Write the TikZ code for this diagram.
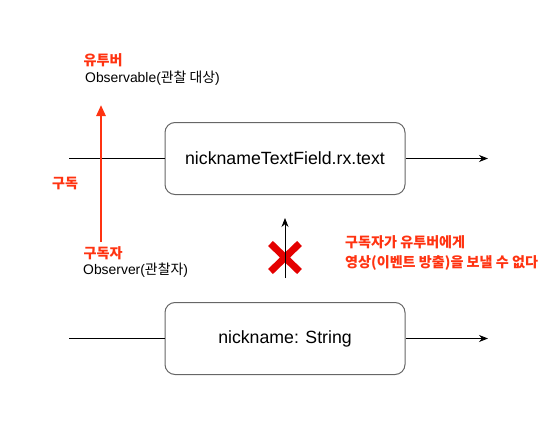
\documentclass[tikz,border=0pt]{standalone}
\usepackage{fontspec}
\setmainfont{Liberation Sans}
\newfontfamily\kr{Noto Sans CJK KR}
\usetikzlibrary{arrows.meta}
\usetikzlibrary{positioning}
\definecolor{subred}{RGB}{255,51,17}
\definecolor{crossred}{RGB}{228,0,0}

\begin{document}
\begin{tikzpicture}[x=1pt, y=-1pt,
    stream/.style={draw=black!60, line width=1pt, rounded corners=10pt,
      minimum width=240pt, minimum height=72pt, font=\fontsize{17.7}{20}\selectfont},
    note/.style={anchor=west, inner sep=0pt, font=\fontsize{13.9}{17}\selectfont},
    rednote/.style={anchor=west, inner sep=0pt, text=subred,
      font=\kr\bfseries\fontsize{14.1}{20}\selectfont},
    flow/.style={line width=0.8pt},
  ]
    \useasboundingbox (0,0) rectangle (560,436);

    % the two streams
    \node[stream] (field) at (285,158.5) {nicknameTextField.rx.text};
    \node[stream] (nick)  at (285,338.5) {nickname: String};

    \coordinate (fieldin)  at (69,158.5);
    \coordinate (fieldout) at (488,158.5);
    \coordinate (nickin)   at (69,338.5);
    \coordinate (nickout)  at (488,338.5);

    \draw[flow] (fieldin) -- (field);
    \draw[flow, -{Stealth[length=9pt,width=7pt]}] (field) -- (fieldout);
    \draw[flow] (nickin) -- (nick);
    \draw[flow, -{Stealth[length=9pt,width=7pt]}] (nick) -- (nickout);

    % subscribe
    \node[rednote] (youtuber)   at (83.5,60) {유투버};
    \node[note]    (observable) at (85,78)   {Observable({\kr 관찰 대상})};
    \node[rednote] (subscribe)  at (52,183)  {구독};
    \node[rednote] (subscriber) at (83.5,253) {구독자};
    \node[note]    (observer)   at (83,270)  {Observer({\kr 관찰자})};

    \coordinate (subfrom) at (101,242);
    \coordinate (subto)   at (101,105);
    \draw[subred, line width=2.5pt, -{Triangle[length=11pt,width=9pt]}] (subfrom) -- (subto);

    % no way back
    \draw[crossred, line width=7pt] (270.5,243.5) -- (299.5,271.5)
                                    (270.5,271.5) -- (299.5,243.5);
    \coordinate (backfrom) at (285,278);
    \coordinate (backto)   at (285,218);
    \draw[flow, -{Stealth[length=9pt,width=7pt]}] (backfrom) -- (backto);

    \node[rednote, align=left] (cannot) at (345,253)
      {구독자가 유투버에게\\영상(이벤트 방출)을 보낼 수 없다};
  \end{tikzpicture}
\end{document}
